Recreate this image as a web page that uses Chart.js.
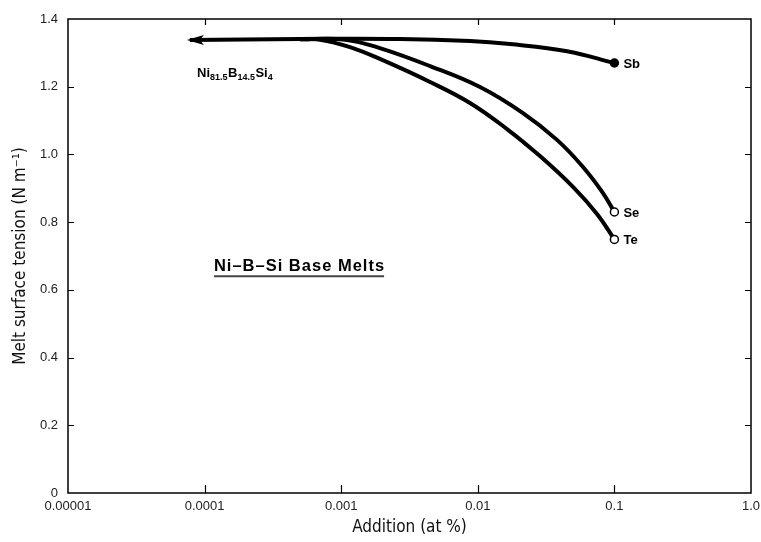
<!DOCTYPE html>
<html>
<head>
<meta charset="utf-8">
<script src="https://cdn.jsdelivr.net/npm/chart.js@4/dist/chart.umd.min.js"></script>
<style>
html,body{margin:0;padding:0;background:#fff;}
#wrap{width:761px;height:542px;}
</style>
</head>
<body>
<div id="wrap"><canvas id="c" width="761" height="542"></canvas></div>
<script>
// ---- data ----
const xTickValues = [0.00001, 0.0001, 0.001, 0.01, 0.1, 1];
const xTickLabels = ['0.00001', '0.0001', '0.001', '0.01', '0.1', '1.0'];
const yTickValues = [0, 0.2, 0.4, 0.6, 0.8, 1.0, 1.2, 1.4];
const yTickLabels = ['0', '0.2', '0.4', '0.6', '0.8', '1.0', '1.2', '1.4'];

const seriesNames = ['Sb', 'Se', 'Te'];

const sbX = [0.000078, 0.0005, 0.0027, 0.0088, 0.0172, 0.045, 0.1];
const sbY = [1.338, 1.341, 1.341, 1.335, 1.326, 1.305, 1.270];

const seX = [0.0005, 0.00107, 0.00192, 0.00447, 0.01038, 0.02142, 0.038, 0.0589, 0.0825, 0.1];
const seY = [1.340, 1.339, 1.314, 1.261, 1.199, 1.122, 1.043, 0.963, 0.886, 0.830];

const teX = [0.0005, 0.0007, 0.00116, 0.00192, 0.00447, 0.00877, 0.01636, 0.02853, 0.04975, 0.07458, 0.1];
const teY = [1.340, 1.339, 1.317, 1.282, 1.214, 1.152, 1.075, 0.995, 0.904, 0.824, 0.749];

const baseAlloy = ['Ni', '81.5', 'B', '14.5', 'Si', '4'];
const panelTitle = 'Ni–B–Si Base Melts';

// ---- helpers ----
function pts(xs, ys) { return xs.map((x, i) => ({ x: x, y: ys[i] })); }
function endOnly(n, r) { return Array.from({ length: n }, (_, i) => i === n - 1 ? r : 0); }

const TICK_FONT = { family: "'Liberation Sans', Arial, sans-serif", size: 13 };
const TITLE_FONT = { family: "'DejaVu Sans Condensed', 'DejaVu Sans', sans-serif", size: 17 };
const BOLD = "bold 13px 'Liberation Sans', Arial, sans-serif";

function mkSet(label, xs, ys, fill) {
  return {
    label: label,
    data: pts(xs, ys),
    borderColor: '#000',
    borderWidth: 4,
    borderCapStyle: 'butt',
    tension: 0.4,
    fill: false,
    pointRadius: endOnly(xs.length, 4),
    pointHoverRadius: 0,
    pointBackgroundColor: fill,
    pointBorderColor: '#000',
    pointBorderWidth: 1.5
  };
}

const framePlugin = {
  id: 'frame',
  afterDatasetsDraw(chart) {
    const ctx = chart.ctx;
    const a = chart.chartArea;
    const xs = chart.scales.x, ys = chart.scales.y;
    ctx.save();
    // frame
    ctx.strokeStyle = '#000';
    ctx.lineWidth = 1.5;
    ctx.strokeRect(a.left, a.top, a.right - a.left, a.bottom - a.top);
    // inward ticks
    ctx.lineWidth = 1.2;
    ctx.beginPath();
    xTickValues.forEach(v => {
      if (v <= xs.min || v >= xs.max) return;
      const px = Math.round(xs.getPixelForValue(v)) + 0.5;
      ctx.moveTo(px, a.bottom); ctx.lineTo(px, a.bottom - 8);
      ctx.moveTo(px, a.top); ctx.lineTo(px, a.top + 6);
    });
    yTickValues.forEach(v => {
      if (v <= ys.min || v >= ys.max) return;
      const py = Math.round(ys.getPixelForValue(v)) + 0.5;
      ctx.moveTo(a.left, py); ctx.lineTo(a.left + 6, py);
      ctx.moveTo(a.right, py); ctx.lineTo(a.right - 6, py);
    });
    ctx.stroke();

    // arrowhead at start of the Sb curve
    const tipX = xs.getPixelForValue(sbX[0]);
    const tipY = ys.getPixelForValue(sbY[0]);
    ctx.fillStyle = '#000';
    ctx.beginPath();
    ctx.moveTo(tipX - 3, tipY);
    ctx.lineTo(tipX + 14, tipY - 5);
    ctx.lineTo(tipX + 10, tipY);
    ctx.lineTo(tipX + 14, tipY + 5);
    ctx.closePath();
    ctx.fill();

    // end labels
    ctx.font = BOLD;
    ctx.textBaseline = 'middle';
    ctx.textAlign = 'left';
    const ends = [[sbX, sbY], [seX, seY], [teX, teY]];
    ends.forEach((e, i) => {
      const n = e[0].length;
      const px = xs.getPixelForValue(e[0][n - 1]);
      const py = ys.getPixelForValue(e[1][n - 1]);
      ctx.fillText(seriesNames[i], px + 9, py + 1);
    });

    // base alloy label with subscripts
    let lx = xs.getPixelForValue(0.000088);
    const ly = ys.getPixelForValue(1.243) + 5;
    ctx.textBaseline = 'alphabetic';
    baseAlloy.forEach((t, i) => {
      const sub = i % 2 === 1;
      ctx.font = sub ? "bold 9px 'Liberation Sans', Arial, sans-serif" : BOLD;
      ctx.fillText(t, lx, sub ? ly + 3 : ly);
      lx += ctx.measureText(t).width + (sub ? 0.5 : 0);
    });

    // panel title with underline
    const tx = xs.getPixelForValue(0.000117);
    const ty = ys.getPixelForValue(0.655);
    ctx.font = "bold 16.5px 'Liberation Sans', Arial, sans-serif";
    try { ctx.letterSpacing = '1px'; } catch (e) {}
    ctx.fillText(panelTitle, tx, ty);
    const w = ctx.measureText(panelTitle).width - 1;
    try { ctx.letterSpacing = '0px'; } catch (e) {}
    ctx.strokeStyle = '#444';
    ctx.lineWidth = 2;
    ctx.beginPath();
    ctx.moveTo(tx, ty + 5);
    ctx.lineTo(tx + w, ty + 5);
    ctx.stroke();
    ctx.restore();
  }
};

new Chart(document.getElementById('c'), {
  type: 'line',
  data: {
    datasets: [
      mkSet(seriesNames[0], sbX, sbY, '#000'),
      mkSet(seriesNames[1], seX, seY, '#fff'),
      mkSet(seriesNames[2], teX, teY, '#fff')
    ]
  },
  options: {
    responsive: false,
    devicePixelRatio: 1,
    animation: false,
    events: [],
    layout: { padding: { left: 0, right: 10, top: 19, bottom: 0 } },
    plugins: { legend: { display: false }, tooltip: { enabled: false } },
    scales: {
      x: {
        type: 'logarithmic',
        position: 'bottom',
        min: 0.00001,
        max: 1,
        grid: { display: false, drawTicks: false },
        border: { display: false },
        afterBuildTicks: s => { s.ticks = xTickValues.map(v => ({ value: v })); },
        afterFit: s => { s.height = 49; s.paddingLeft = 0; s.paddingRight = 0; },
        ticks: {
          autoSkip: false, maxRotation: 0, minRotation: 0,
          padding: 6, color: '#222', font: TICK_FONT,
          callback: (v) => {
            const i = xTickValues.findIndex(t => Math.abs(Math.log10(t) - Math.log10(v)) < 1e-6);
            return i >= 0 ? xTickLabels[i] : '';
          }
        },
        title: {
          display: true, text: 'Addition (at %)', color: '#111',
          font: TITLE_FONT, padding: { top: 0, bottom: 4 }
        }
      },
      y: {
        type: 'linear',
        min: 0,
        max: 1.4,
        grid: { display: false, drawTicks: false },
        border: { display: false },
        afterBuildTicks: s => { s.ticks = yTickValues.map(v => ({ value: v })); },
        afterFit: s => { s.width = 68; s.paddingTop = 0; s.paddingBottom = 0; },
        ticks: {
          padding: 10, color: '#222', font: TICK_FONT,
          callback: (v) => {
            const i = yTickValues.findIndex(t => Math.abs(t - v) < 1e-6);
            return i >= 0 ? yTickLabels[i] : '';
          }
        },
        title: {
          display: true, text: 'Melt surface tension (N m⁻¹)', color: '#111',
          font: TITLE_FONT, padding: { top: 10, bottom: 0 }
        }
      }
    }
  },
  plugins: [framePlugin]
});
</script>
</body>
</html>
